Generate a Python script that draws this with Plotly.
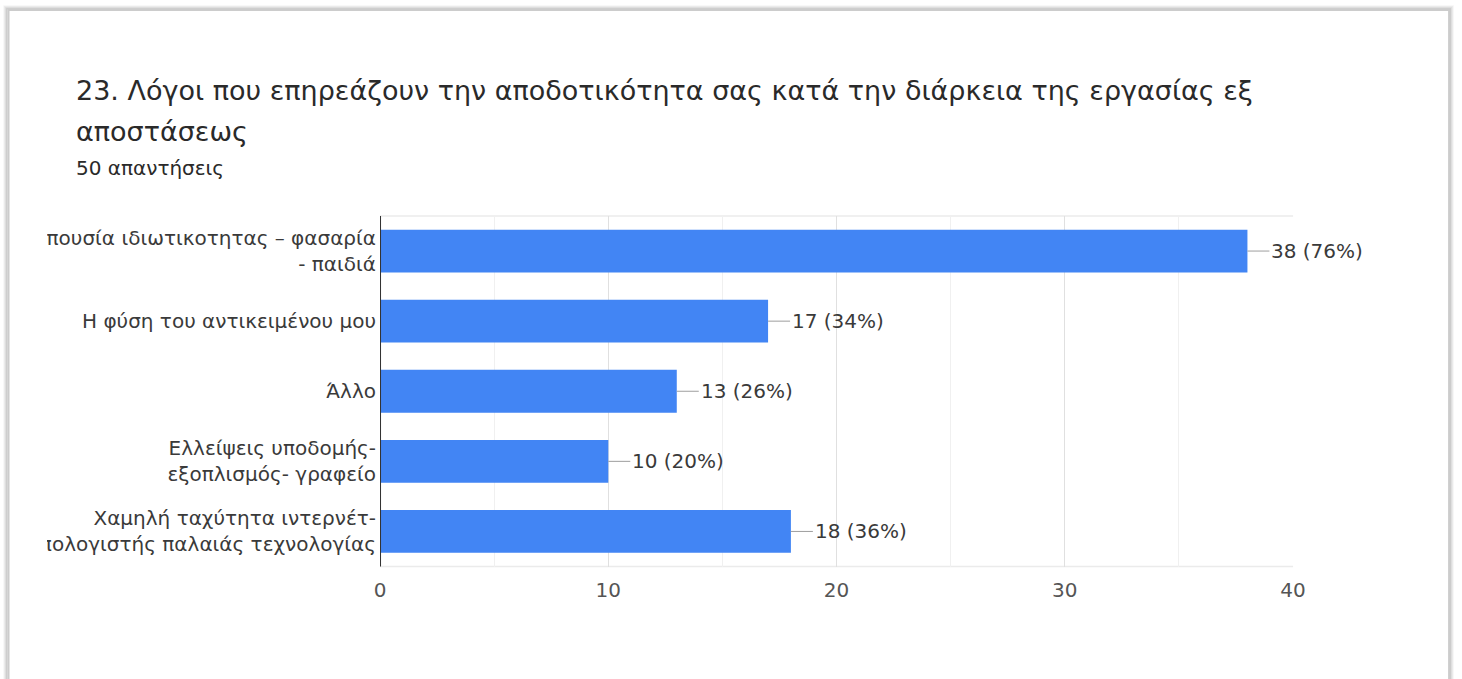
import plotly.graph_objects as go

# Survey question 23: factors affecting productivity when working remotely
categories = [
    "Απουσία ιδιωτικοτητας – φασαρία<br>- παιδιά",
    "Η φύση του αντικειμένου μου",
    "Άλλο",
    "Ελλείψεις υποδομής-<br>εξοπλισμός- γραφείο",
    "Χαμηλή ταχύτητα ιντερνέτ-<br>Υπολογιστής παλαιάς τεχνολογίας",
]
counts = [38, 17, 13, 10, 18]
total_responses = 50
x_ticks = [0, 10, 20, 30, 40]

title_line1 = "23. Λόγοι που επηρεάζουν την αποδοτικότητα σας κατά την διάρκεια της εργασίας εξ"
title_line2 = "αποστάσεως"
subtitle = f"{total_responses} απαντήσεις"

W, H = 1462, 679

# horizontal pixel -> paper fraction, calibrated to the page as displayed
X0, XSPAN = 6.0, 1442.9


def px(x):
    return (x - X0) / XSPAN


def py(y):
    return 1 - y / H


BLUE = "#4285F4"
TEXT = "#3a3a3a"
FONT = "DejaVu Sans"

fig = go.Figure()
fig.add_trace(
    go.Bar(
        x=counts,
        y=categories,
        orientation="h",
        marker=dict(color=BLUE, line=dict(width=0)),
        width=0.61,
        hoverinfo="skip",
    )
)

# value labels with short leader lines
annotations = []
for c, v in zip(categories, counts):
    pct = round(100 * v / total_responses)
    annotations.append(
        dict(
            x=v, y=c, xref="x", yref="y",
            text=f"{v} ({pct}%)",
            showarrow=True, arrowhead=0, arrowwidth=1, arrowcolor="#9e9e9e",
            ax=22, ay=0, xanchor="left", yanchor="middle",
            font=dict(family=FONT, size=20, color=TEXT),
        )
    )

# header texts
HEAD_FONT = "DejaVu Sans"
annotations += [
    dict(x=px(74), y=py(91), xref="paper", yref="paper", text=title_line1,
         showarrow=False, xanchor="left", yanchor="middle",
         font=dict(family=HEAD_FONT, size=27, color="#2a2a2a")),
    dict(x=px(74), y=py(131), xref="paper", yref="paper", text=title_line2,
         showarrow=False, xanchor="left", yanchor="middle",
         font=dict(family=HEAD_FONT, size=27, color="#2a2a2a")),
    dict(x=px(74), y=py(168), xref="paper", yref="paper", text=subtitle,
         showarrow=False, xanchor="left", yanchor="middle",
         font=dict(family=HEAD_FONT, size=20, color="#2a2a2a")),
]

RIGHT = 1449.0
shapes = []
# soft shadow around the card
for off, alpha in [(4, 0.04), (3, 0.07), (2, 0.11), (1, 0.16)]:
    shapes.append(dict(
        type="rect", xref="paper", yref="paper", layer="above",
        x0=px(8 - off), x1=px(RIGHT + off), y0=py(720), y1=py(10 - off),
        line=dict(color=f"rgba(0,0,0,{alpha})", width=1.5), fillcolor="rgba(0,0,0,0)",
    ))
# card border
shapes.append(dict(
    type="rect", xref="paper", yref="paper", layer="above",
    x0=px(8.5), x1=px(RIGHT), y0=py(720), y1=py(10),
    line=dict(color="#cccccc", width=2), fillcolor="rgba(0,0,0,0)",
))
# label area is cut off at the left
shapes.append(dict(
    type="rect", xref="paper", yref="paper", layer="above",
    x0=px(10), x1=px(47), y0=py(200), y1=py(570),
    line=dict(width=0), fillcolor="white",
))
# plot frame top/bottom lines
for yy in (216, 566.5):
    shapes.append(dict(
        type="line", xref="paper", yref="paper", layer="below",
        x0=px(380), x1=px(1293), y0=py(yy), y1=py(yy),
        line=dict(color="#ebebeb", width=1.5),
    ))
# baseline at zero
shapes.append(dict(
    type="line", xref="x", yref="paper", layer="above",
    x0=0, x1=0, y0=py(216), y1=py(566.5),
    line=dict(color="#333333", width=2),
))

fig.update_layout(
    width=W, height=H, autosize=False,
    margin=dict(l=0, r=0, t=0, b=0),
    paper_bgcolor="white", plot_bgcolor="white",
    showlegend=False,
    bargap=0.39,
    annotations=annotations,
    shapes=shapes,
    xaxis=dict(
        domain=[px(380), px(1293)],
        range=[0, 40],
        tickvals=x_ticks,
        ticktext=[str(t) for t in x_ticks],
        showgrid=True, gridcolor="#e0e0e0", gridwidth=1,
        minor=dict(dtick=5, showgrid=True, gridcolor="#f0f0f0", gridwidth=1),
        zeroline=False, showline=False,
        ticks="", ticklen=0,
        ticklabelstandoff=9,
        tickfont=dict(family=FONT, size=20, color="#555555"),
        fixedrange=True,
    ),
    yaxis=dict(
        domain=[py(566.5), py(216)],
        autorange="reversed",
        showgrid=False, zeroline=False, showline=False,
        ticks="", ticklen=0,
        ticklabelstandoff=3,
        tickfont=dict(family=FONT, size=20, color=TEXT),
        fixedrange=True,
    ),
)

fig.write_html("out.html", config={"displayModeBar": False})
